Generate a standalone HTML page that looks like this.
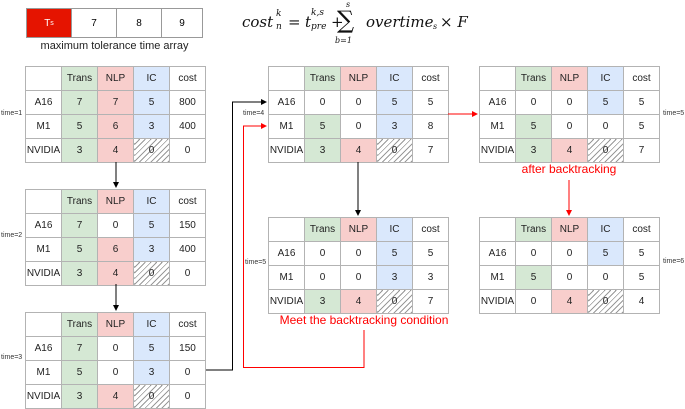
<!DOCTYPE html>
<html><head><meta charset="utf-8"><style>
body{margin:0;width:685px;height:409px;position:relative;background:#fff;font-family:"Liberation Sans",sans-serif;overflow:hidden}
.t{position:absolute;border-collapse:collapse;table-layout:fixed;width:181px;height:96px}
.t td{border:1px solid #b3b3b3;height:23px;padding:0;text-align:center;font-size:10px;color:#222;overflow:hidden}
.g{background:#d5e8d4}.p{background:#f8cecc}.b{background:#dae8fc}
.h{background:repeating-linear-gradient(135deg,#fff 0 3px,#999 3px 4px)}
.lab{position:absolute;font-size:7px;color:#333}
.red{color:#f00}
.f{position:absolute;font-family:'DejaVu Serif',serif;font-style:italic;color:#111;white-space:nowrap}
</style></head><body>
<div style="position:absolute;left:26px;top:8px;width:177px;height:30px;display:flex;border:1px solid #999;box-sizing:border-box;font-size:10px">
<div style="width:44px;background:#e51400;color:#fff;display:flex;align-items:center;justify-content:center;border-right:1px solid #999">T<sub style="font-size:7px">s</sub></div>
<div style="width:44px;display:flex;align-items:center;justify-content:center;border-right:1px solid #999">7</div>
<div style="width:44px;display:flex;align-items:center;justify-content:center;border-right:1px solid #999">8</div>
<div style="flex:1;display:flex;align-items:center;justify-content:center">9</div></div>
<div style="position:absolute;left:26px;top:40px;width:177px;text-align:center;font-size:11px;color:#222">maximum tolerance time array</div>

<div class="f" style="left:242px;top:13px;font-size:15px">cost</div>
<div class="f" style="left:276px;top:9px;font-size:9px">k</div>
<div class="f" style="left:276px;top:22px;font-size:9px">n</div>
<div class="f" style="left:288px;top:13px;font-size:15px;font-style:normal">=</div>
<div class="f" style="left:305px;top:13px;font-size:15px">t</div>
<div class="f" style="left:311px;top:8px;font-size:9px">k,s</div>
<div class="f" style="left:311px;top:22px;font-size:9px">pre</div>
<div class="f" style="left:331px;top:13px;font-size:15px;font-style:normal">+</div>
<div class="f" style="left:346px;top:0px;font-size:8px">s</div>
<div class="f" style="left:337px;top:6px;font-size:24px;font-style:normal">∑</div>
<div class="f" style="left:335px;top:36px;font-size:8px">b=1</div>
<div class="f" style="left:366px;top:13px;font-size:15px">overtime</div>
<div class="f" style="left:433px;top:22px;font-size:8px">s</div>
<div class="f" style="left:440px;top:13px;font-size:15px"><span style="font-style:normal">×</span> F</div>

<table class="t" style="left:25px;top:66px">
<tr><td></td><td class="g">Trans</td><td class="p">NLP</td><td class="b">IC</td><td>cost</td></tr>
<tr><td>A16</td><td class="g">7</td><td class="p">7</td><td class="b">5</td><td>800</td></tr>
<tr><td>M1</td><td class="g">5</td><td class="p">6</td><td class="b">3</td><td>400</td></tr>
<tr><td>NVIDIA</td><td class="g">3</td><td class="p">4</td><td class="h">0</td><td>0</td></tr></table>
<div class="lab" style="left:1px;top:110px">time=1</div>
<table class="t" style="left:25px;top:189px">
<tr><td></td><td class="g">Trans</td><td class="p">NLP</td><td class="b">IC</td><td>cost</td></tr>
<tr><td>A16</td><td class="g">7</td><td>0</td><td class="b">5</td><td>150</td></tr>
<tr><td>M1</td><td class="g">5</td><td class="p">6</td><td class="b">3</td><td>400</td></tr>
<tr><td>NVIDIA</td><td class="g">3</td><td class="p">4</td><td class="h">0</td><td>0</td></tr></table>
<div class="lab" style="left:1px;top:232px">time=2</div>
<table class="t" style="left:25px;top:312px">
<tr><td></td><td class="g">Trans</td><td class="p">NLP</td><td class="b">IC</td><td>cost</td></tr>
<tr><td>A16</td><td class="g">7</td><td>0</td><td class="b">5</td><td>150</td></tr>
<tr><td>M1</td><td class="g">5</td><td>0</td><td class="b">3</td><td>0</td></tr>
<tr><td>NVIDIA</td><td class="g">3</td><td class="p">4</td><td class="h">0</td><td>0</td></tr></table>
<div class="lab" style="left:1px;top:354px">time=3</div>
<table class="t" style="left:268px;top:66px">
<tr><td></td><td class="g">Trans</td><td class="p">NLP</td><td class="b">IC</td><td>cost</td></tr>
<tr><td>A16</td><td>0</td><td>0</td><td class="b">5</td><td>5</td></tr>
<tr><td>M1</td><td class="g">5</td><td>0</td><td class="b">3</td><td>8</td></tr>
<tr><td>NVIDIA</td><td class="g">3</td><td class="p">4</td><td class="h">0</td><td>7</td></tr></table>
<div class="lab" style="left:243px;top:110px">time=4</div>
<table class="t" style="left:479px;top:66px">
<tr><td></td><td class="g">Trans</td><td class="p">NLP</td><td class="b">IC</td><td>cost</td></tr>
<tr><td>A16</td><td>0</td><td>0</td><td class="b">5</td><td>5</td></tr>
<tr><td>M1</td><td class="g">5</td><td>0</td><td>0</td><td>5</td></tr>
<tr><td>NVIDIA</td><td class="g">3</td><td class="p">4</td><td class="h">0</td><td>7</td></tr></table>
<div class="lab" style="left:663px;top:110px">time=5</div>
<table class="t" style="left:268px;top:217px">
<tr><td></td><td class="g">Trans</td><td class="p">NLP</td><td class="b">IC</td><td>cost</td></tr>
<tr><td>A16</td><td>0</td><td>0</td><td class="b">5</td><td>5</td></tr>
<tr><td>M1</td><td>0</td><td>0</td><td class="b">3</td><td>3</td></tr>
<tr><td>NVIDIA</td><td class="g">3</td><td class="p">4</td><td class="h">0</td><td>7</td></tr></table>
<div class="lab" style="left:245px;top:259px">time=5</div>
<table class="t" style="left:479px;top:217px">
<tr><td></td><td class="g">Trans</td><td class="p">NLP</td><td class="b">IC</td><td>cost</td></tr>
<tr><td>A16</td><td>0</td><td>0</td><td class="b">5</td><td>5</td></tr>
<tr><td>M1</td><td class="g">5</td><td>0</td><td>0</td><td>5</td></tr>
<tr><td>NVIDIA</td><td>0</td><td class="p">4</td><td class="h">0</td><td>4</td></tr></table>
<div class="lab" style="left:663px;top:258px">time=6</div>

<div class="red" style="position:absolute;left:479px;top:162px;width:180px;text-align:center;font-size:12px">after backtracking</div>
<div class="red" style="position:absolute;left:262px;top:313px;width:204px;text-align:center;font-size:12px;white-space:nowrap">Meet the backtracking condition</div>

<svg width="685" height="409" style="position:absolute;left:0;top:0" fill="none">
<defs>
<marker id="ab" markerWidth="6" markerHeight="6" refX="5" refY="3" orient="auto"><path d="M0,0 L6,3 L0,6 Z" fill="#000"/></marker>
<marker id="ar" markerWidth="6" markerHeight="6" refX="5" refY="3" orient="auto"><path d="M0,0 L6,3 L0,6 Z" fill="#f00"/></marker>
</defs>
<path d="M116 162 V187" stroke="#000" marker-end="url(#ab)"/>
<path d="M116 284 V310" stroke="#000" marker-end="url(#ab)"/>
<path d="M206 370 H232.5 V102 H266" stroke="#000" marker-end="url(#ab)"/>
<path d="M358 162 V215" stroke="#000" marker-end="url(#ab)"/>
<path d="M364 330 V367.5 H243.5 V126 H266" stroke="#f00" marker-end="url(#ar)"/>
<path d="M448 114 H477" stroke="#f00" marker-end="url(#ar)"/>
<path d="M569 180 V215" stroke="#f00" marker-end="url(#ar)"/>
</svg>
</body></html>
